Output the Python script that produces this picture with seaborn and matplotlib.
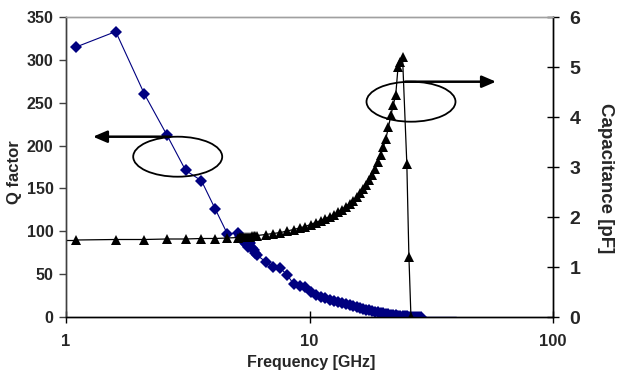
import matplotlib
matplotlib.use("Agg")
import matplotlib.pyplot as plt
import seaborn as sns
from matplotlib.patches import Ellipse
from matplotlib.ticker import FixedLocator, FixedFormatter, NullLocator

# ---- data ----
q_freq = [1.1, 1.6, 2.1, 2.6, 3.1, 3.6, 4.1, 4.6, 5.1,
          5.2, 5.3, 5.4, 5.5, 5.6, 5.7, 5.8, 5.9, 6.0, 6.1,
          6.6, 7.1, 7.6, 8.1, 8.6, 9.1, 9.6, 10.1, 10.6, 11.1, 11.6,
          12.1, 12.6, 13.1, 13.6, 14.1, 14.6, 15.1, 15.6, 16.1, 16.6,
          17.1, 17.6, 18.1, 18.6, 19.1, 19.6, 20.1, 20.6, 21.1, 21.6,
          22.1, 22.6, 23.1, 23.6, 24.1, 24.6, 25.1, 25.6, 26.1, 26.6,
          27.1, 27.6, 28.1, 28.6]
q_factor = [315, 333, 260, 212, 171, 159, 126, 97, 98,
            95, 91, 88, 85, 82, 86, 80, 78, 75, 72,
            64.5, 58.7, 56.8, 49, 38.5, 36.5, 35.4, 29.5, 25.7, 23.7, 21.8,
            20.3, 19, 17.5, 16.2, 15, 13.8, 12.6, 11.2, 10.1, 9.2,
            8.4, 7.6, 7.0, 6.4, 5.7, 5.0, 4.3, 3.7, 3.1, 2.6,
            2.2, 1.8, 1.5, 1.2, 1.0, 0.8, 0.6, 0.5, 0.4, 0.3,
            0.2, 0.1, 0.05, 0.0]
q_tail_freq = [28.6, 40.0]
q_tail = [0.0, 0.0]

c_freq = [1.1, 1.6, 2.1, 2.6, 3.1, 3.6, 4.1, 4.6, 5.1,
          5.2, 5.3, 5.4, 5.5, 5.6, 5.7, 5.8, 5.9, 6.0, 6.1,
          6.6, 7.1, 7.6, 8.1, 8.6, 9.1, 9.6, 10.1, 10.6, 11.1, 11.6,
          12.1, 12.6, 13.1, 13.6, 14.1, 14.6, 15.1, 15.6, 16.1, 16.6,
          17.1, 17.6, 18.1, 18.6, 19.1, 19.6, 20.1, 20.6, 21.1, 21.6,
          22.1, 22.6, 23.1, 23.6, 24.1, 25.1, 25.6, 26.1]
capacitance = [1.54, 1.55, 1.55, 1.56, 1.56, 1.57, 1.57, 1.58, 1.59,
               1.60, 1.60, 1.60, 1.61, 1.61, 1.61, 1.62, 1.62, 1.62, 1.63,
               1.65, 1.67, 1.69, 1.72, 1.75, 1.78, 1.81, 1.85, 1.89, 1.93, 1.97,
               2.01, 2.05, 2.10, 2.15, 2.21, 2.27, 2.33, 2.40, 2.48, 2.56,
               2.65, 2.74, 2.84, 2.97, 3.10, 3.24, 3.40, 3.57, 3.80, 4.04,
               4.25, 4.44, 5.00, 5.10, 5.21, 3.07, 1.21, 0.0]
c_lead_freq = [0.95, 1.1]
c_lead = [1.54, 1.54]

x_ticks = [1, 10, 100]
x_tick_labels = ["1", "10", "100"]
q_ticks = [0, 50, 100, 150, 200, 250, 300, 350]
c_ticks = [0, 1, 2, 3, 4, 5, 6]

# ---- figure ----
sns.set_theme(style="white")
plt.rcParams["font.family"] = ["Liberation Sans", "DejaVu Sans"]
plt.rcParams["font.weight"] = "bold"

W, H = 618, 376
fig = plt.figure(figsize=(W / 100, H / 100), dpi=100)
ax = fig.add_axes([66 / W, 1 - 317 / H, 487 / W, 300 / H])
ax.set_xscale("log")
ax2 = ax.twinx()

sns.lineplot(x=q_freq, y=q_factor, ax=ax, color="#000080", marker="D",
             markersize=6.5, markeredgewidth=0, linewidth=0.8, sort=False,
             zorder=3)
sns.lineplot(x=q_tail_freq, y=q_tail, ax=ax, color="#000080",
             linewidth=1.0, sort=False, zorder=3)

sns.lineplot(x=c_lead_freq, y=c_lead, ax=ax2, color="black",
             linewidth=0.9, sort=False)
sns.lineplot(x=c_freq, y=capacitance, ax=ax2, color="black", marker="^",
             markersize=7.5, markeredgewidth=0, linewidth=0.9, sort=False)

ax.set_xlim(1, 100)
ax.set_ylim(0, 350)
ax2.set_ylim(0, 6)

ax.xaxis.set_major_locator(FixedLocator(x_ticks))
ax.xaxis.set_major_formatter(FixedFormatter(x_tick_labels))
ax.xaxis.set_minor_locator(NullLocator())
ax.set_yticks(q_ticks)
ax2.set_yticks(c_ticks)

ax.tick_params(axis="x", which="major", direction="inout", length=8, width=1,
               labelsize=12, pad=8, color="black", bottom=True)
ax.tick_params(axis="y", direction="out", length=5, width=1, labelsize=11.5,
               pad=4, color="#404040", left=True)
ax2.tick_params(axis="y", direction="inout", length=8, width=1, labelsize=14,
                pad=8, color="black", right=True)

for a in (ax, ax2):
    for lab in a.get_xticklabels() + a.get_yticklabels():
        lab.set_fontweight("bold")

for a in (ax, ax2):
    a.spines["top"].set_color("#a0a0a0")
    a.spines["top"].set_linewidth(1)
    a.spines["left"].set_color("#404040")
    a.spines["left"].set_linewidth(1)
    a.spines["bottom"].set_color("black")
    a.spines["bottom"].set_linewidth(1)
    a.spines["right"].set_color("black")
    a.spines["right"].set_linewidth(1)
ax.grid(False)
ax2.grid(False)

ax.set_xlabel("Frequency [GHz]", fontsize=11.5, fontweight="bold")
ax.set_ylabel("Q factor", fontsize=12, fontweight="bold")
ax2.set_ylabel("Capacitance [pF]", fontsize=13.5, fontweight="bold",
               rotation=270, va="bottom")
ax.xaxis.set_label_coords((311 - 66) / 487, -(355 - 317) / 300)
ax.yaxis.set_label_coords(-(66 - 22) / 487, (317 - 172) / 300)
ax2.yaxis.set_label_coords((597 - 66) / 487, (317 - 178) / 300)


def fx(px):
    return px / W


def fy(py):
    return 1 - py / H


# annotation ellipses and arrows
for cx, cy in [(177.7, 156.7), (411, 101.7)]:
    fig.patches.append(Ellipse((fx(cx), fy(cy)), 89 / W, 40 / H,
                               transform=fig.transFigure, fill=False,
                               edgecolor="black", linewidth=1.3, zorder=5))

fig.add_artist(plt.Annotation("", xy=(fx(93), fy(136.7)), xytext=(fx(170), fy(136.7)),
                              xycoords="figure fraction", textcoords="figure fraction",
                              arrowprops=dict(arrowstyle="-|>,head_length=0.7,head_width=0.3",
                                              color="black", linewidth=1.8,
                                              shrinkA=0, shrinkB=0)))
fig.add_artist(plt.Annotation("", xy=(fx(496), fy(81.7)), xytext=(fx(405), fy(81.7)),
                              xycoords="figure fraction", textcoords="figure fraction",
                              arrowprops=dict(arrowstyle="-|>,head_length=0.7,head_width=0.3",
                                              color="black", linewidth=1.8,
                                              shrinkA=0, shrinkB=0)))

fig.savefig("out.png", dpi=100)
